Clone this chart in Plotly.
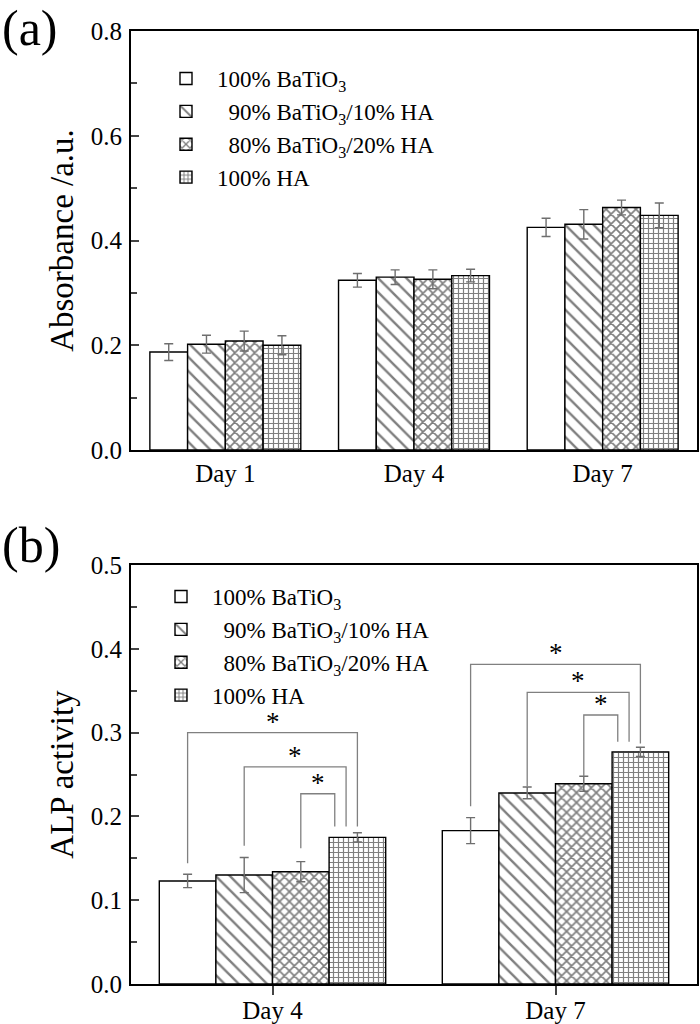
import plotly.graph_objects as go

# ---------------- data ----------------
days_a = ["Day 1", "Day 4", "Day 7"]
days_b = ["Day 4", "Day 7"]
series_names = [
    "100% BaTiO<sub>3</sub>",
    "\u00a0\u00a090% BaTiO<sub>3</sub>/10% HA",
    "\u00a0\u00a080% BaTiO<sub>3</sub>/20% HA",
    "100% HA",
]

# panel (a): absorbance
abs_bt100 = [0.187, 0.324, 0.425]
abs_bt90 = [0.202, 0.330, 0.431]
abs_bt80 = [0.208, 0.326, 0.463]
abs_ha100 = [0.200, 0.333, 0.448]
abs_err_bt100 = [0.016, 0.013, 0.0175]
abs_err_bt90 = [0.017, 0.014, 0.028]
abs_err_bt80 = [0.019, 0.018, 0.014]
abs_err_ha100 = [0.018, 0.012, 0.0235]

# panel (b): ALP activity
alp_bt100 = [0.123, 0.183]
alp_bt90 = [0.130, 0.228]
alp_bt80 = [0.134, 0.239]
alp_ha100 = [0.175, 0.277]
alp_err_bt100 = [0.008, 0.0155]
alp_err_bt90 = [0.021, 0.007]
alp_err_bt80 = [0.012, 0.009]
alp_err_ha100 = [0.0055, 0.0055]

# significance brackets (panel b): day index, left series, right series
br_day = [0, 0, 0, 1, 1, 1]
br_left = [0, 1, 2, 0, 1, 2]
br_right = [3, 3, 3, 3, 3, 3]
br_top = [0.300, 0.259, 0.227, 0.3815, 0.348, 0.321]
br_left_foot = [0.144, 0.165, 0.162, 0.212, 0.236, 0.248]
br_right_foot = [0.188, 0.188, 0.188, 0.287, 0.289, 0.289]
br_right_shift = [0.0, -0.04, -0.08, 0.0, -0.04, -0.08]

# ---------------- style ----------------
FONT = "Liberation Serif"
patterns = ["", "\\", "x", "+"]
pattern_sizes = [9, 10, 7, 5]
pattern_solidity = [0.2, 0.24, 0.42, 0.42]
BARGAP = 0.2
W, H = 700, 1024

fig = go.Figure()

vals_a = [abs_bt100, abs_bt90, abs_bt80, abs_ha100]
errs_a = [abs_err_bt100, abs_err_bt90, abs_err_bt80, abs_err_ha100]
vals_b = [alp_bt100, alp_bt90, alp_bt80, alp_ha100]
errs_b = [alp_err_bt100, alp_err_bt90, alp_err_bt80, alp_err_ha100]


def add_bars(vals, errs, days, xa, ya, legend):
    for i, name in enumerate(series_names):
        fig.add_trace(go.Bar(
            x=list(range(len(days))), y=vals[i], name=name,
            xaxis=xa, yaxis=ya, legend=legend,
            marker=dict(color="white",
                        line=dict(color="black", width=1.4),
                        pattern=dict(shape=patterns[i], size=pattern_sizes[i],
                                     solidity=pattern_solidity[i],
                                     fgcolor="black", bgcolor="white")),
            error_y=dict(type="data", array=errs[i], color="#6e6e6e",
                         thickness=1.4, width=4.5),
        ))


add_bars(vals_a, errs_a, days_a, "x", "y", "legend")
add_bars(vals_b, errs_b, days_b, "x2", "y2", "legend2")

# bracket geometry derived from bar group layout
n_series = len(series_names)
bar_w = (1 - BARGAP) / n_series
offsets = [-(1 - BARGAP) / 2 + bar_w * (k + 0.5) for k in range(n_series)]

bx, by = [], []
for d, l, r, top, lf, rf, rs in zip(br_day, br_left, br_right, br_top,
                                     br_left_foot, br_right_foot, br_right_shift):
    xl = d + offsets[l]
    xr = d + offsets[r] + rs
    bx += [xl, xl, xr, xr, None]
    by += [lf, top, top, rf, None]
    fig.add_annotation(x=(xl + xr) / 2, y=top, xref="x2", yref="y2",
                       text="*", showarrow=False, yanchor="bottom",
                       yshift=-6, font=dict(family=FONT, size=27, color="black"))

fig.add_trace(go.Scatter(x=bx, y=by, mode="lines", xaxis="x2", yaxis="y2",
                         line=dict(color="#808080", width=1.3),
                         showlegend=False, hoverinfo="skip"))

x0, x1 = 131 / W, 697 / W
axis_common = dict(showline=True, mirror=True, linecolor="black", linewidth=2,
                   showgrid=False, zeroline=False, automargin=False,
                   tickfont=dict(family=FONT, size=25, color="black"))

legend_common = dict(xanchor="left", yanchor="top", bgcolor="rgba(0,0,0,0)",
                     itemwidth=52, tracegroupgap=0,
                     font=dict(family=FONT, size=23, color="black"))

fig.update_layout(
    width=W, height=H,
    margin=dict(l=0, r=0, t=0, b=0),
    paper_bgcolor="white", plot_bgcolor="white",
    barmode="group", bargap=BARGAP, bargroupgap=0,
    font=dict(family=FONT, color="black"),
    xaxis=dict(domain=[x0, x1], range=[-0.5, len(days_a) - 0.5],
               tickvals=list(range(len(days_a))), ticktext=days_a,
               ticks="", ticklabelstandoff=0, anchor="y", **axis_common),
    yaxis=dict(domain=[1 - 450 / H, 1 - 31 / H], range=[0, 0.8],
               dtick=0.2, tickformat=".1f", ticks="inside", ticklen=8,
               tickwidth=1.5, ticklabelstandoff=2,
               minor=dict(dtick=0.1, ticks="inside", ticklen=6, tickwidth=1.5),
               title=dict(text="Absorbance /a.u.", standoff=7,
                          font=dict(family=FONT, size=33, color="black")),
               anchor="x", **axis_common),
    xaxis2=dict(domain=[x0, x1], range=[-0.5, len(days_b) - 0.5],
                tickvals=list(range(len(days_b))), ticktext=days_b,
                ticks="outside", ticklen=9, tickwidth=2, ticklabelstandoff=-6,
                anchor="y2", **axis_common),
    yaxis2=dict(domain=[1 - 984 / H, 1 - 565 / H], range=[0, 0.5],
                dtick=0.1, tickformat=".1f", ticks="inside", ticklen=8,
                tickwidth=1.5, ticklabelstandoff=2,
                minor=dict(dtick=0.05, ticks="inside", ticklen=6, tickwidth=1.5),
                title=dict(text="ALP activity", standoff=7,
                           font=dict(family=FONT, size=33, color="black")),
                anchor="x2", **axis_common),
    legend=dict(x=155 / W, y=1 - 57 / H, **legend_common),
    legend2=dict(x=150 / W, y=1 - 575 / H, **legend_common),
)

fig.add_annotation(x=0, y=1, xref="paper", yref="paper", xanchor="left",
                   yanchor="top", text="(a)", showarrow=False, yshift=2,
                   font=dict(family=FONT, size=50, color="black"))
fig.add_annotation(x=0, y=1 - 515 / H, xref="paper", yref="paper",
                   xanchor="left", yanchor="top", text="(b)", showarrow=False,
                   font=dict(family=FONT, size=50, color="black"))

fig.write_html("out.html", config={"displayModeBar": False},
               post_script="document.body.style.margin='0';")
